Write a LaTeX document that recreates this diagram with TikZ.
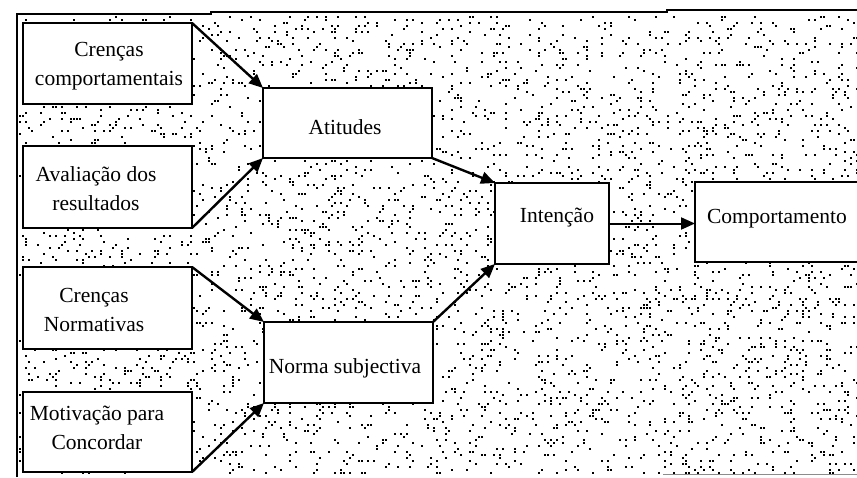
\documentclass[tikz,border=0pt]{standalone}
\usepackage{fontspec}
\setmainfont{Liberation Serif}
\usetikzlibrary{arrows.meta}

\tikzset{
  box/.style={draw, line width=1.9pt, fill=white, inner sep=0pt, outer sep=0pt},
  txt/.style={align=center, inner sep=0pt, font=\fontsize{21.5}{29}\selectfont},
  arr/.style={line width=2.4pt, -{Triangle[length=14pt,width=12pt]}},
  arrthin/.style={line width=2pt, -{Triangle[length=14pt,width=12pt]}},
  frame/.style={line width=1.4pt},
}

\begin{document}
\begin{tikzpicture}[x=1pt, y=-1pt]
\useasboundingbox (0,0) rectangle (857,477);

% stippled background inside the frame
\pgfmathsetseed{4711}
\foreach \i in {1,...,4500}{
  \pgfmathsetmacro\dx{19+3*int(rnd*280)}
  \pgfmathsetmacro\dy{16+3*int(rnd*153)}
  \fill (\dx,\dy) rectangle ++(1.6,1.6);
}

% frame
\draw[frame] (17,477) -- (17,14) -- (211,14) -- (211,12) -- (667,12) -- (667,10) -- (860,10);
\draw[line width=0.8pt, black!45] (663,474) -- (860,474);

% boxes
\node[box, minimum width=169pt, minimum height=81pt] (cc) at (107.5,63.5) {};
\node[box, minimum width=169pt, minimum height=82pt] (av) at (107.5,187) {};
\node[box, minimum width=169pt, minimum height=82pt] (cn) at (107.5,308) {};
\node[box, minimum width=169pt, minimum height=80pt] (mc) at (107.5,432) {};
\node[box, minimum width=169pt, minimum height=70pt] (at) at (347.5,123) {};
\node[box, minimum width=169pt, minimum height=81pt] (ns) at (348.5,362.5) {};
\node[box, minimum width=114pt, minimum height=81pt] (in) at (552,223.5) {};
\node[box, minimum width=175pt, minimum height=80pt] (cp) at (782.5,222) {};

% labels
\node[txt] (cc-t) at (109,66) {Crenças\\comportamentais};
\node[txt] (av-t) at (96,189) {Avaliação dos\\resultados};
\node[txt] (cn-t) at (94,310) {Crenças\\Normativas};
\node[txt] (mc-t) at (97,428) {Motivação para\\Concordar};
\node[txt] (at-t) at (345,127) {Atitudes};
\node[txt] (ns-t) at (345,368) {Norma subjectiva};
\node[txt] (in-t) at (557,218) {Intenção};
\node[txt] (cp-t) at (777,219) {Comportamento};

% connectors
\draw[arr] (cc.north east) -- (at.north west);
\draw[arr] (av.south east) -- (at.south west);
\draw[arr] (cn.north east) -- (ns.north west);
\draw[arr] (mc.south east) -- (ns.south west);
\draw[arr] (at.south east) -- (in.north west);
\draw[arr] (ns.north east) -- (in.south west);
\draw[arrthin] (in.east) -- (in.east -| cp.west);
\end{tikzpicture}
\end{document}
